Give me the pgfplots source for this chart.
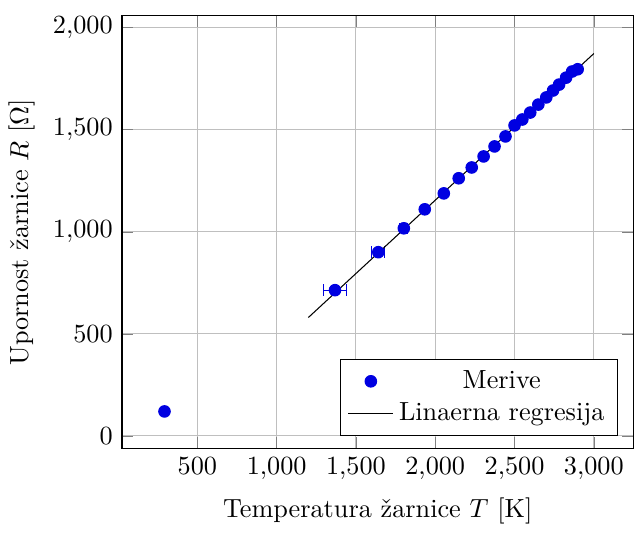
\documentclass[border=0pt]{standalone}
\usepackage{fontspec}
\usepackage{pgfplots}
\pgfplotsset{compat=1.18}
\definecolor{mblue}{RGB}{0,0,225}
\begin{document}
\begin{tikzpicture}
\begin{axis}[
  scale only axis,
  width=195pt, height=165pt,
  xmin=25, xmax=3250,
  ymin=-62, ymax=2058,
  xtick={500,1000,1500,2000,2500,3000},
  ytick={0,500,1000,1500,2000},
  grid=major,
  xlabel={Temperatura žarnice $T$ [K]},
  ylabel={Upornost žarnice $R$ [$\Omega$]},
  legend pos=south east,
  legend cell align=center,
]
\addplot[only marks, mark=*, mblue, mark size=2.2pt,
  error bars/.cd, x dir=both, x explicit]
  table[x=x, y=y, x error=ex] {
x y ex
293 120 0
1368 714 71
1641 900 42
1802 1017 25
1934 1110 15
2054 1188 10
2148 1262 8
2230 1315 6
2305 1369 5
2374 1418 5
2443 1467 4
2500 1521 4
2549 1550 3
2599 1584 3
2650 1623 3
2700 1658 3
2743 1692 3
2781 1721 3
2825 1755 3
2863 1785 3
2898 1796 3
};
\addlegendentry{Merive}
\addplot[black, no marks] coordinates {(1200,580) (3000,1873)};
\addlegendentry{Linaerna regresija}
\end{axis}
\path (current bounding box.north) ++(0,3pt);
\end{tikzpicture}
\end{document}
